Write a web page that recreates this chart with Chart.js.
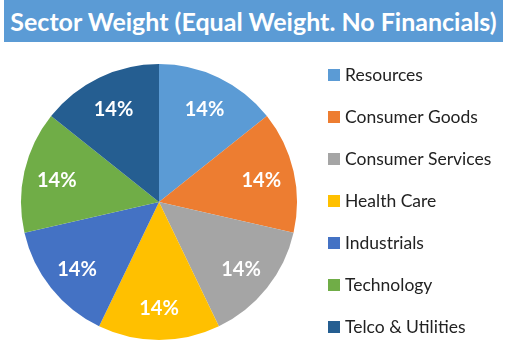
<!DOCTYPE html>
<html>
<head>
<meta charset="utf-8">
<script src="https://cdn.jsdelivr.net/npm/chart.js@4/dist/chart.umd.min.js"></script>
<style>
  html, body { margin:0; padding:0; background:#fff; }
  #wrap { position:relative; width:507px; height:353px; }
  #title { position:absolute; left:4px; top:0; width:499px; height:42px; background:#5b9bd5;
    color:#fff; font:bold 25px Lato, sans-serif; line-height:42px; text-align:center; white-space:nowrap; }
  canvas { position:absolute; left:0; top:0; }
</style>
</head>
<body>
<div id="wrap">
  <canvas id="pie" width="507" height="353"></canvas>
  <div id="title">Sector Weight (Equal Weight. No Financials)</div>
</div>
<script>
const sectors = ['Resources','Consumer Goods','Consumer Services','Health Care','Industrials','Technology','Telco & Utilities']
const weights = [1/7,1/7,1/7,1/7,1/7,1/7,1/7]
const colors = ['#5b9bd5','#ed7d31','#a5a5a5','#ffc000','#4472c4','#70ad47','#255e91']

// percent labels inside each slice
const sliceLabels = {
  id:'sliceLabels',
  afterDatasetsDraw(chart) {
    const ctx = chart.ctx
    const meta = chart.getDatasetMeta(0)
    const total = weights.reduce((a,b)=>a+b,0)
    ctx.save()
    ctx.fillStyle = '#fff'
    ctx.font = 'bold 20px Lato, sans-serif'
    ctx.textAlign = 'center'; ctx.textBaseline = 'middle'
    meta.data.forEach((arc, i) => {
      const p = arc.getProps(['x','y','startAngle','endAngle','outerRadius'], true)
      const mid = (p.startAngle + p.endAngle)/2
      const r = p.outerRadius*0.76
      ctx.fillText(Math.round(weights[i]/total*100)+'%', p.x + Math.cos(mid)*r, p.y + Math.sin(mid)*r + 2)
    })
    ctx.restore()
  }
}

// legend on the right, one row per sector
const sideLegend = {
  id:'sideLegend',
  afterDraw(chart) {
    const ctx = chart.ctx
    ctx.save()
    ctx.font = '17.5px Lato, sans-serif'
    ctx.textBaseline = 'middle'
    sectors.forEach((s, i) => {
      const y = 75 + i*42
      ctx.fillStyle = colors[i]
      ctx.fillRect(328, y-6, 12, 12)
      ctx.fillStyle = '#222'
      ctx.fillText(s, 345, y)
    })
    ctx.restore()
  }
}

new Chart(document.getElementById('pie'), {
  type:'pie',
  data:{ labels:sectors, datasets:[{ data:weights, backgroundColor:colors, borderWidth:0 }] },
  options:{
    responsive:false, animation:false,
    layout:{ padding:{ left:21, right:210, top:64, bottom:13 } },
    plugins:{ legend:{display:false}, tooltip:{enabled:false} }
  },
  plugins:[sliceLabels, sideLegend]
})
</script>
</body>
</html>
